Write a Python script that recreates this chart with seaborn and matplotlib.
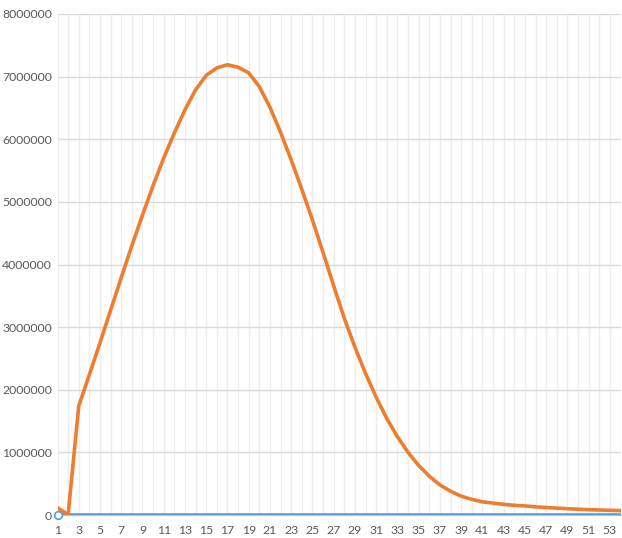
import matplotlib
matplotlib.use('Agg')
import matplotlib.pyplot as plt
import seaborn as sns
import pandas as pd

# Category axis (1..54)
categories = list(range(1, 55))

# Orange series
series_orange = [
    115000, 5000, 1740000, 2240000, 2750000, 3270000, 3790000, 4300000, 4790000, 5260000,
    5700000, 6100000, 6470000, 6790000, 7020000, 7140000, 7190000, 7150000, 7060000, 6840000,
    6510000, 6110000, 5670000, 5200000, 4710000, 4190000, 3660000, 3140000, 2680000, 2260000,
    1880000, 1540000, 1250000, 1000000, 790000, 620000, 480000, 380000, 300000, 250000,
    210000, 190000, 170000, 155000, 145000, 130000, 120000, 110000, 100000, 92000,
    85000, 80000, 75000, 70000,
]

# Blue series (flat at zero)
series_blue = [
    0, 0, 0, 0, 0, 0, 0, 0, 0, 0, 0, 0, 0, 0, 0, 0, 0, 0, 0, 0,
    0, 0, 0, 0, 0, 0, 0, 0, 0, 0, 0, 0, 0, 0, 0, 0, 0, 0, 0, 0,
    0, 0, 0, 0, 0, 0, 0, 0, 0, 0, 0, 0, 0, 0,
]

y_ticks = [0, 1000000, 2000000, 3000000, 4000000, 5000000, 6000000, 7000000, 8000000]
x_ticks = categories[::2]

df = pd.DataFrame({
    'cat': categories * 2,
    'value': series_blue + series_orange,
    'series': ['blue'] * len(categories) + ['orange'] * len(categories),
})

sns.set_style('white')
plt.rcParams['font.family'] = ['Lato', 'DejaVu Sans']

fig = plt.figure(figsize=(6.22, 5.38), dpi=100)
ax = fig.add_axes([57.5 / 622, 23 / 538, (620.5 - 57.5) / 622, (515 - 14) / 538])

# vertical category gridlines (light)
for c in categories:
    ax.axvline(c, color='#EDEDED', lw=1.0, zorder=0)
ax.set_yticks(y_ticks)
ax.yaxis.grid(True, color='#D9D9D9', lw=1.0, zorder=0)
ax.set_axisbelow(True)

sns.lineplot(data=df, x='cat', y='value', hue='series',
             palette={'blue': '#5B9BD5', 'orange': '#ED7D31'},
             linewidth=2.6, legend=False, ax=ax, zorder=3)

# small hollow handle at the origin
ax.plot([1], [0], marker='o', ms=5.5, mfc='white', mec='#5B9BD5', mew=1.2,
        clip_on=False, zorder=5)

ax.set_xlim(1, 54)
ax.set_ylim(0, 8000000)
ax.set_xticks(x_ticks)
ax.set_xticklabels([str(c) for c in x_ticks])
ax.set_yticklabels([str(v) for v in y_ticks])
ax.set_xticks(categories, minor=True)
ax.tick_params(axis='x', which='both', length=3, color='#BFBFBF', pad=4,
               labelsize=8.8, labelcolor='#595959')
ax.tick_params(axis='y', length=0, pad=4, labelsize=8.8, labelcolor='#595959')
ax.set_xlabel('')
ax.set_ylabel('')

for s in ['top', 'right', 'left']:
    ax.spines[s].set_visible(False)
ax.spines['bottom'].set_color('#BFBFBF')

fig.savefig('out.png', dpi=100)
